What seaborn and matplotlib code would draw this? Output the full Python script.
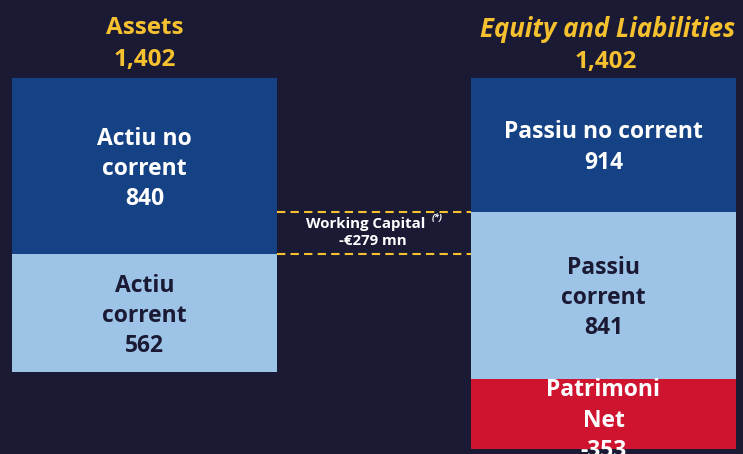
import matplotlib
matplotlib.use("Agg")
import matplotlib.pyplot as plt
import seaborn as sns

sns.set_theme(style="white")
plt.rcParams['font.family'] = ['Open Sans', 'DejaVu Sans']

# ---- data ----
columns = ["Assets", "Equity and Liabilities"]
totals = [1402, 1402]
left_labels = ["Actiu no\ncorrent", "Actiu\ncorrent"]
left_values = [840, 562]
right_labels = ["Passiu no corrent", "Passiu\ncorrent", "Patrimoni\nNet"]
right_values = [914, 841, -353]
# segment extents as drawn in the picture (bottom, top)
left_bottoms = [562, 0]
left_tops = [1402, 562]
right_bottoms = [763, -33, -367]
right_tops = [1402, 763, -33]
wc_label = "Working Capital"
wc_value = "-€279 mn"

# ---- style ----
BG = "#1b1a35"
DARK = "#154284"
LIGHT = "#9dc3e6"
RED = "#cf1430"
GOLD = "#f6c12f"
left_colors = [DARK, LIGHT]
right_colors = [DARK, LIGHT, RED]
left_text = ["white", BG]
right_text = ["white", BG, "white"]
right_shift = [-12, -12, -32]
W = 0.578

fig = plt.figure(figsize=(7.43, 4.54), dpi=100, facecolor=BG)
ax = fig.add_axes([0, 0, 1, 1])
ax.set_facecolor(BG)

for col, bottoms, tops, colors in [(columns[0], left_bottoms, left_tops, left_colors),
                                   (columns[1], right_bottoms, right_tops, right_colors)]:
    for b, t, c in zip(bottoms, tops, colors):
        sns.barplot(x=[col], y=[t - b], bottom=b, order=columns, color=c,
                    saturation=1, width=W, errorbar=None, linewidth=0, ax=ax)

ax.set_xlim(-0.3148, 1.304)
ax.set_ylim(-391, 1774)
ax.axis("off")

FS = 16.5
LS = 1.36
# segment labels
for i, (lab, v) in enumerate(zip(left_labels, left_values)):
    mid = (left_bottoms[i] + left_tops[i]) / 2 - 14
    ax.text(0, mid, f"{lab}\n{v:,}", ha="center", va="center", color=left_text[i],
            fontsize=FS, fontweight="bold", linespacing=LS)
for i, (lab, v) in enumerate(zip(right_labels, right_values)):
    mid = (right_bottoms[i] + right_tops[i]) / 2 + right_shift[i]
    ax.text(1, mid, f"{lab}\n{v:,}", ha="center", va="center", color=right_text[i],
            fontsize=FS, fontweight="bold", linespacing=LS)

# titles
ax.text(0, 1641, columns[0], ha="center", va="center", color=GOLD, fontsize=17.5, fontweight="bold")
ax.text(0, 1490, f"{totals[0]:,}", ha="center", va="center", color=GOLD, fontsize=17.5, fontweight="bold")
ax.text(1.01, 1634, columns[1], ha="center", va="center", color=GOLD, fontsize=18.5,
        fontweight="bold", fontstyle="italic")
ax.text(1.005, 1476, f"{totals[1]:,}", ha="center", va="center", color=GOLD, fontsize=17.5, fontweight="bold")

# working capital bracket
ax.hlines([right_bottoms[0], left_tops[1]], W / 2, 1 - W / 2, colors=GOLD, linewidth=1.5,
          linestyles=[(0, (4, 2.5))])
ax.text(0.4826, 706, wc_label, ha="center", va="center", color="white", fontsize=10.8, fontweight="bold")
ax.text(0.638, 737, "(*)", ha="center", va="center", color="white", fontsize=6.5,
        fontweight="bold", fontstyle="italic")
ax.text(0.498, 625, wc_value, ha="center", va="center", color="white", fontsize=10.8, fontweight="bold")

fig.savefig("out.png", dpi=100, facecolor=BG)
